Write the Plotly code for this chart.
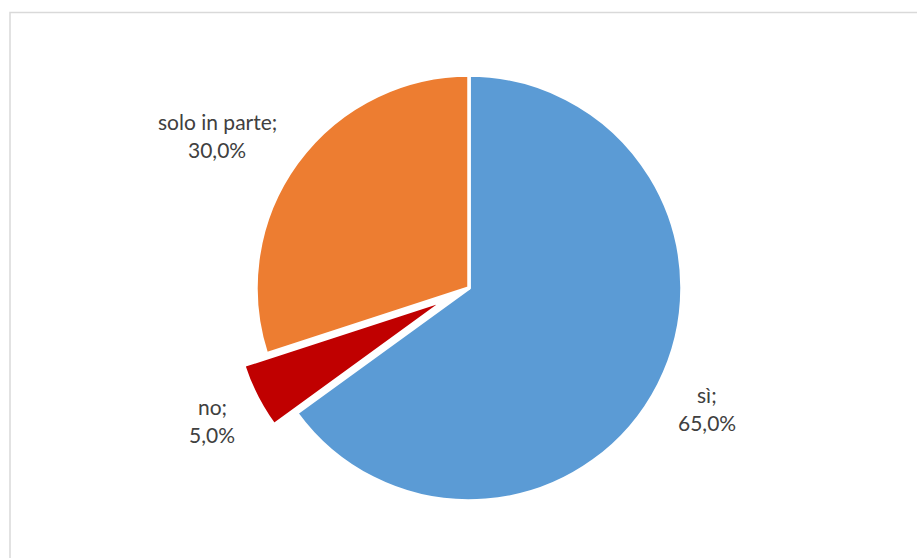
import plotly.graph_objects as go

# Survey answers and their shares (%)
labels = ["sì", "no", "solo in parte"]
values = [65.0, 5.0, 30.0]
colors = ["#5B9BD5", "#C00000", "#ED7D31"]
pulls = [0, 0.12, 0]

W, H = 917, 558

# Pie box: centre (469, 288) px, radius 213 px, enlarged for the pulled slice
cx, cy, r = 469, 288, 213
half = r * (1 + max(pulls))
fig = go.Figure()
fig.add_trace(go.Pie(
    labels=labels,
    values=values,
    sort=False,
    direction="clockwise",
    rotation=0,
    pull=pulls,
    marker=dict(colors=colors, line=dict(color="white", width=3.5)),
    textinfo="none",
    hoverinfo="label+percent",
    showlegend=False,
    domain=dict(x=[(cx - half) / W, (cx + half) / W],
                y=[1 - (cy + half) / H, 1 - (cy - half) / H]),
))

# Data labels: name on one line, percentage below (comma decimal separator)
label_pos = {
    "sì": (707, 394),
    "no": (212, 406),
    "solo in parte": (217, 121),
}
font = dict(family="Lato, Open Sans, sans-serif", size=21, color="#404040")
annotations = []
for lab, val in zip(labels, values):
    px, py = label_pos[lab]
    pct = f"{val / sum(values) * 100:.1f}%".replace(".", ",")
    for txt, dy in ((f"{lab};", 0), (pct, 28)):
        annotations.append(dict(
            x=px / W, y=1 - (py + dy) / H, xref="paper", yref="paper",
            text=txt, showarrow=False, font=font,
            xanchor="center", yanchor="middle",
        ))

# Chart frame
shapes = [dict(
    type="rect", xref="paper", yref="paper",
    x0=10 / W, x1=1.05, y0=-0.05, y1=1 - 12.5 / H,
    line=dict(color="#D9D9D9", width=1.5), fillcolor="rgba(0,0,0,0)",
    layer="below",
)]

fig.update_layout(
    width=W, height=H,
    margin=dict(l=0, r=0, t=0, b=0),
    paper_bgcolor="white",
    plot_bgcolor="white",
    annotations=annotations,
    shapes=shapes,
)

fig.write_html("out.html")
